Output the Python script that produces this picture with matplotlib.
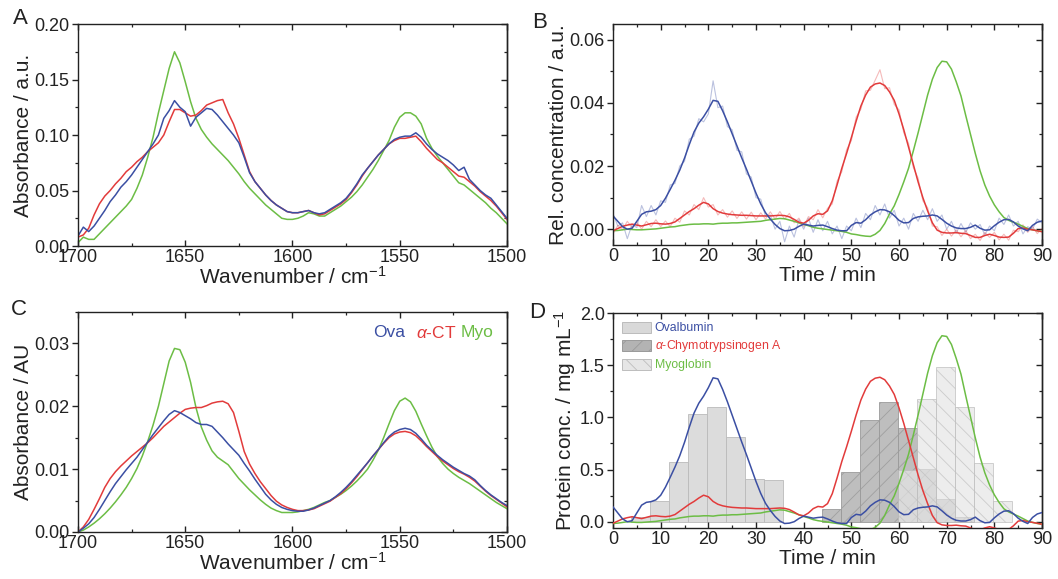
import numpy as np
import matplotlib
matplotlib.use("Agg")
import matplotlib.pyplot as plt
from matplotlib.ticker import MultipleLocator, FormatStrFormatter
from matplotlib.patches import Patch

plt.rcParams['font.family'] = ['Liberation Sans', 'DejaVu Sans']
plt.rcParams['mathtext.fontset'] = 'custom'
plt.rcParams['mathtext.rm'] = 'Liberation Sans'
plt.rcParams['mathtext.it'] = 'Liberation Sans:italic'
plt.rcParams['hatch.linewidth'] = 0.6
plt.rcParams['axes.linewidth'] = 1.0

BLUE = '#3b4fa3'
RED = '#e23b3b'
GREEN = '#6cbd45'
INK = '#222222'

# ---------------- IR spectra (A: measured, C: resolved components) ----------------
wavenumber = np.arange(1700, 1499, -2.5)

abs_ova = [0.009, 0.017, 0.013, 0.018, 0.025, 0.032, 0.040, 0.046, 0.053, 0.058,
           0.064, 0.071, 0.078, 0.085, 0.092, 0.100, 0.115, 0.122, 0.131, 0.125,
           0.121, 0.108, 0.116, 0.120, 0.124, 0.123, 0.118, 0.112, 0.106, 0.100,
           0.093, 0.080, 0.066, 0.058, 0.052, 0.046, 0.041, 0.037, 0.034, 0.031,
           0.030, 0.030, 0.031, 0.032, 0.030, 0.029, 0.030, 0.033, 0.036, 0.039,
           0.043, 0.049, 0.056, 0.064, 0.070, 0.076, 0.082, 0.087, 0.092, 0.096,
           0.098, 0.099, 0.099, 0.102, 0.098, 0.092, 0.087, 0.083, 0.080, 0.077,
           0.073, 0.068, 0.071, 0.060, 0.055, 0.050, 0.046, 0.043, 0.037, 0.031,
           0.025]
abs_act = [0.008, 0.010, 0.016, 0.028, 0.038, 0.045, 0.050, 0.056, 0.061, 0.067,
           0.071, 0.076, 0.080, 0.085, 0.089, 0.093, 0.100, 0.112, 0.123, 0.123,
           0.120, 0.117, 0.118, 0.122, 0.127, 0.129, 0.131, 0.132, 0.120, 0.110,
           0.097, 0.082, 0.067, 0.058, 0.052, 0.046, 0.041, 0.037, 0.034, 0.031,
           0.030, 0.030, 0.031, 0.032, 0.030, 0.028, 0.029, 0.032, 0.035, 0.038,
           0.042, 0.048, 0.055, 0.063, 0.070, 0.076, 0.082, 0.087, 0.092, 0.095,
           0.097, 0.097, 0.098, 0.099, 0.094, 0.088, 0.083, 0.078, 0.075, 0.071,
           0.067, 0.063, 0.062, 0.058, 0.054, 0.049, 0.045, 0.041, 0.036, 0.030,
           0.024]
abs_myo = [0.003, 0.008, 0.006, 0.006, 0.011, 0.016, 0.021, 0.026, 0.031, 0.036,
           0.042, 0.052, 0.064, 0.080, 0.098, 0.120, 0.140, 0.160, 0.175, 0.165,
           0.148, 0.130, 0.115, 0.105, 0.098, 0.092, 0.087, 0.082, 0.077, 0.071,
           0.065, 0.058, 0.052, 0.047, 0.042, 0.037, 0.033, 0.029, 0.025, 0.024,
           0.024, 0.025, 0.027, 0.030, 0.029, 0.027, 0.027, 0.030, 0.033, 0.036,
           0.040, 0.044, 0.049, 0.055, 0.062, 0.069, 0.077, 0.086, 0.095, 0.107,
           0.116, 0.120, 0.120, 0.117, 0.110, 0.097, 0.088, 0.081, 0.075, 0.069,
           0.063, 0.057, 0.055, 0.051, 0.047, 0.043, 0.039, 0.034, 0.030, 0.025,
           0.020]

comp_ova = [0.0000, 0.0006, 0.0013, 0.0023, 0.0036, 0.0050, 0.0064, 0.0077, 0.0088, 0.0099,
            0.0109, 0.0119, 0.0131, 0.0143, 0.0155, 0.0166, 0.0177, 0.0187, 0.0193, 0.0190,
            0.0185, 0.0180, 0.0174, 0.0171, 0.0171, 0.0168, 0.0159, 0.0150, 0.0140, 0.0131,
            0.0122, 0.0109, 0.0097, 0.0084, 0.0072, 0.0060, 0.0051, 0.0044, 0.0039, 0.0036,
            0.0034, 0.0033, 0.0033, 0.0035, 0.0038, 0.0042, 0.0046, 0.0050, 0.0056, 0.0063,
            0.0071, 0.0080, 0.0090, 0.0100, 0.0110, 0.0121, 0.0131, 0.0142, 0.0152, 0.0159,
            0.0163, 0.0165, 0.0163, 0.0157, 0.0148, 0.0138, 0.0130, 0.0122, 0.0115, 0.0109,
            0.0103, 0.0098, 0.0093, 0.0089, 0.0083, 0.0074, 0.0066, 0.0059, 0.0053, 0.0047,
            0.0042]
comp_act = [0.0000, 0.0008, 0.0020, 0.0036, 0.0053, 0.0071, 0.0085, 0.0096, 0.0105, 0.0113,
            0.0121, 0.0128, 0.0135, 0.0142, 0.0150, 0.0159, 0.0168, 0.0175, 0.0182, 0.0189,
            0.0195, 0.0197, 0.0198, 0.0198, 0.0201, 0.0205, 0.0207, 0.0208, 0.0204, 0.0190,
            0.0160, 0.0128, 0.0108, 0.0093, 0.0080, 0.0069, 0.0058, 0.0049, 0.0043, 0.0039,
            0.0036, 0.0034, 0.0034, 0.0035, 0.0037, 0.0041, 0.0045, 0.0049, 0.0055, 0.0061,
            0.0069, 0.0078, 0.0088, 0.0099, 0.0110, 0.0121, 0.0131, 0.0141, 0.0150, 0.0156,
            0.0159, 0.0160, 0.0158, 0.0153, 0.0145, 0.0136, 0.0128, 0.0120, 0.0113, 0.0107,
            0.0101, 0.0096, 0.0092, 0.0087, 0.0081, 0.0073, 0.0065, 0.0058, 0.0052, 0.0046,
            0.0040]
comp_myo = [0.0000, 0.0003, 0.0008, 0.0014, 0.0021, 0.0029, 0.0038, 0.0048, 0.0059, 0.0071,
            0.0085, 0.0101, 0.0121, 0.0144, 0.0170, 0.0200, 0.0236, 0.0272, 0.0292, 0.0290,
            0.0270, 0.0238, 0.0198, 0.0167, 0.0146, 0.0129, 0.0119, 0.0113, 0.0107, 0.0096,
            0.0085, 0.0076, 0.0067, 0.0059, 0.0051, 0.0044, 0.0038, 0.0034, 0.0031, 0.0031,
            0.0031, 0.0032, 0.0034, 0.0036, 0.0039, 0.0043, 0.0047, 0.0050, 0.0055, 0.0060,
            0.0066, 0.0073, 0.0081, 0.0090, 0.0100, 0.0114, 0.0130, 0.0150, 0.0172, 0.0193,
            0.0208, 0.0213, 0.0207, 0.0192, 0.0172, 0.0153, 0.0135, 0.0120, 0.0109, 0.0100,
            0.0093, 0.0087, 0.0082, 0.0077, 0.0071, 0.0065, 0.0059, 0.0053, 0.0047, 0.0042,
            0.0037]

# ---------------- elution profiles (B) ----------------
time_min = np.arange(0, 91, 1)

rel_ova_raw = [0.0050, 0.0010, 0.0020, -0.0030, 0.0015, 0.0005, 0.0075, 0.0040, 0.0075, 0.0045,
               0.0090, 0.0085, 0.0140, 0.0145, 0.0200, 0.0215, 0.0285, 0.0295, 0.0350, 0.0340,
               0.0365, 0.0470, 0.0385, 0.0390, 0.0325, 0.0315, 0.0250, 0.0245, 0.0175, 0.0165,
               0.0100, 0.0095, 0.0040, 0.0045, 0.0000, 0.0025, -0.0040, 0.0010, -0.0025, 0.0030,
               0.0000, 0.0035, -0.0010, 0.0030, -0.0005, 0.0025, -0.0015, 0.0010, -0.0030, 0.0010,
               -0.0005, 0.0035, 0.0005, 0.0050, 0.0030, 0.0075, 0.0045, 0.0080, 0.0035, 0.0060,
               0.0010, 0.0035, 0.0000, 0.0050, 0.0025, 0.0060, 0.0030, 0.0065, 0.0025, 0.0045,
               0.0000, 0.0025, -0.0012, 0.0018, -0.0010, 0.0020, 0.0000, 0.0015, -0.0018, 0.0010,
               -0.0005, 0.0035, 0.0015, 0.0045, 0.0010, 0.0025, -0.0015, 0.0008, 0.0000, 0.0032,
               0.0020]
rel_act_raw = [-0.0015, 0.0012, -0.0002, 0.0025, 0.0005, 0.0022, 0.0000, 0.0025, 0.0008, 0.0030,
               0.0008, 0.0026, 0.0008, 0.0035, 0.0022, 0.0058, 0.0045, 0.0078, 0.0062, 0.0100,
               0.0070, 0.0078, 0.0045, 0.0062, 0.0038, 0.0058, 0.0034, 0.0055, 0.0032, 0.0054,
               0.0030, 0.0052, 0.0032, 0.0055, 0.0032, 0.0056, 0.0032, 0.0050, 0.0020, 0.0035,
               0.0008, 0.0040, 0.0030, 0.0062, 0.0036, 0.0066, 0.0080, 0.0152, 0.0182, 0.0252,
               0.0280, 0.0355, 0.0380, 0.0438, 0.0440, 0.0472, 0.0505, 0.0445, 0.0448, 0.0395,
               0.0378, 0.0305, 0.0272, 0.0195, 0.0162, 0.0090, 0.0068, 0.0010, 0.0008, -0.0020,
               0.0000, -0.0022, -0.0002, -0.0024, -0.0004, -0.0030, -0.0016, -0.0036, -0.0010, -0.0026,
               -0.0010, -0.0034, -0.0016, -0.0035, -0.0003, -0.0008, 0.0014, -0.0010, 0.0008, -0.0014,
               0.0002]

rel_ova = [0.0042, 0.0025, 0.0008, 0.0000, 0.0003, 0.0025, 0.0047, 0.0055, 0.0057, 0.0062,
           0.0075, 0.0098, 0.0126, 0.0155, 0.0187, 0.0225, 0.0268, 0.0308, 0.0336, 0.0356,
           0.0380, 0.0408, 0.0405, 0.0375, 0.0340, 0.0302, 0.0264, 0.0226, 0.0190, 0.0152,
           0.0114, 0.0080, 0.0052, 0.0032, 0.0015, 0.0002, -0.0005, -0.0004, 0.0000, 0.0009,
           0.0016, 0.0013, 0.0010, 0.0012, 0.0013, 0.0008, 0.0002, -0.0003, -0.0005, -0.0005,
           0.0012, 0.0021, 0.0019, 0.0030, 0.0045, 0.0055, 0.0062, 0.0061, 0.0055, 0.0043,
           0.0028, 0.0020, 0.0021, 0.0034, 0.0039, 0.0041, 0.0042, 0.0045, 0.0042, 0.0031,
           0.0019, 0.0010, 0.0004, 0.0002, 0.0002, 0.0006, 0.0013, 0.0003, -0.0003, -0.0002,
           0.0011, 0.0022, 0.0030, 0.0031, 0.0023, 0.0010, 0.0001, -0.0005, 0.0012, 0.0022,
           0.0026]
rel_act = [-0.0005, 0.0002, 0.0009, 0.0013, 0.0016, 0.0013, 0.0010, 0.0014, 0.0018, 0.0019,
           0.0017, 0.0016, 0.0018, 0.0023, 0.0034, 0.0045, 0.0056, 0.0065, 0.0076, 0.0085,
           0.0080, 0.0065, 0.0056, 0.0051, 0.0048, 0.0046, 0.0045, 0.0044, 0.0044, 0.0043,
           0.0042, 0.0042, 0.0042, 0.0042, 0.0043, 0.0044, 0.0043, 0.0039, 0.0031, 0.0022,
           0.0019, 0.0028, 0.0042, 0.0049, 0.0047, 0.0058, 0.0090, 0.0140, 0.0193, 0.0240,
           0.0290, 0.0342, 0.0390, 0.0425, 0.0450, 0.0460, 0.0463, 0.0455, 0.0435, 0.0408,
           0.0365, 0.0315, 0.0260, 0.0205, 0.0150, 0.0100, 0.0058, 0.0020, -0.0003, -0.0010,
           -0.0012, -0.0012, -0.0011, -0.0013, -0.0014, -0.0020, -0.0026, -0.0026, -0.0020, -0.0016,
           -0.0020, -0.0025, -0.0026, -0.0025, -0.0013, 0.0002, 0.0004, 0.0000, -0.0002, -0.0005,
           -0.0008]
rel_myo = [-0.0005, -0.0004, -0.0002, 0.0000, -0.0001, -0.0002, -0.0002, -0.0001, 0.0000, 0.0001,
           0.0003, 0.0005, 0.0007, 0.0008, 0.0011, 0.0013, 0.0015, 0.0016, 0.0016, 0.0017,
           0.0017, 0.0016, 0.0018, 0.0019, 0.0019, 0.0020, 0.0020, 0.0021, 0.0022, 0.0023,
           0.0024, 0.0025, 0.0028, 0.0030, 0.0032, 0.0034, 0.0033, 0.0029, 0.0025, 0.0020,
           0.0015, 0.0011, 0.0006, 0.0003, 0.0001, -0.0001, -0.0003, -0.0005, -0.0007, -0.0010,
           -0.0015, -0.0017, -0.0020, -0.0022, -0.0023, -0.0016, -0.0004, 0.0018, 0.0048, 0.0074,
           0.0110, 0.0150, 0.0193, 0.0248, 0.0305, 0.0365, 0.0425, 0.0475, 0.0512, 0.0532,
           0.0530, 0.0507, 0.0467, 0.0422, 0.0360, 0.0300, 0.0240, 0.0185, 0.0140, 0.0105,
           0.0077, 0.0055, 0.0037, 0.0028, 0.0022, 0.0016, 0.0009, 0.0002, -0.0002, -0.0005,
           -0.0007]

# calibration factors (mg/mL per relative unit) used for panel D
calib_ova = 33.8
calib_act = 29.9
calib_myo = 33.5

# ---------------- offline fraction analysis (D bars) ----------------
fraction_width = 4.0
ova_frac_t = [5.75, 9.75, 13.75, 17.75, 21.75, 25.75, 29.75, 33.75]
ova_frac_c = [0.05, 0.20, 0.57, 1.03, 1.10, 0.81, 0.41, 0.40]
act_frac_t = [45.75, 49.75, 53.75, 57.75, 61.75, 65.75, 69.75, 73.75]
act_frac_c = [0.12, 0.48, 0.97, 1.15, 0.90, 0.51, 0.22, 0.05]
myo_frac_t = [61.75, 65.75, 69.75, 73.75, 77.75, 81.75]
myo_frac_c = [0.50, 1.18, 1.48, 1.10, 0.56, 0.20]

TICK_FS = 13.0
LABEL_FS = 15


def style_axes(ax, xmaj, xmin, ymaj, ymin, yfmt):
    ax.xaxis.set_major_locator(MultipleLocator(xmaj))
    ax.xaxis.set_minor_locator(MultipleLocator(xmin))
    ax.yaxis.set_major_locator(MultipleLocator(ymaj))
    ax.yaxis.set_minor_locator(MultipleLocator(ymin))
    ax.yaxis.set_major_formatter(FormatStrFormatter(yfmt))
    ax.tick_params(axis='x', which='both', direction='in', top=True, colors=INK,
                   labelsize=TICK_FS, pad=2)
    ax.tick_params(axis='y', which='both', direction='out', right=False, colors=INK,
                   labelsize=TICK_FS, pad=2)
    ax.tick_params(which='major', length=4, width=1.0)
    ax.tick_params(which='minor', length=2.5, width=0.9)
    sec = ax.secondary_yaxis('right')
    sec.yaxis.set_major_locator(MultipleLocator(ymaj))
    sec.yaxis.set_minor_locator(MultipleLocator(ymin))
    sec.tick_params(axis='y', which='both', direction='in', labelright=False, colors=INK)
    sec.tick_params(which='major', length=4, width=1.0)
    sec.tick_params(which='minor', length=2.5, width=0.9)
    for s in ax.spines.values():
        s.set_color(INK)
    sec.spines['right'].set_color(INK)


fig = plt.figure(figsize=(10.58, 5.79), dpi=100)

axA = fig.add_axes([0.0737, 0.5751, 0.4055, 0.3834])
axB = fig.add_axes([0.5794, 0.5769, 0.4055, 0.3817])
axC = fig.add_axes([0.0737, 0.0812, 0.4055, 0.3800])
axD = fig.add_axes([0.5794, 0.0881, 0.4055, 0.3713])

lw = 1.1

# Panel A
axA.plot(wavenumber, abs_myo, color=GREEN, lw=lw)
axA.plot(wavenumber, abs_act, color=RED, lw=lw)
axA.plot(wavenumber, abs_ova, color=BLUE, lw=lw)
axA.set_xlim(1700, 1500)
axA.set_ylim(0, 0.20)
style_axes(axA, 50, 25, 0.05, 0.025, '%.2f')
axA.set_xlabel('Wavenumber / cm$^{-1}$', fontsize=LABEL_FS, color=INK, labelpad=0)
axA.set_ylabel('Absorbance / a.u.', fontsize=LABEL_FS, color=INK, labelpad=1)

# Panel B
axB.plot(time_min, rel_ova_raw, color=BLUE, lw=0.8, alpha=0.35)
axB.plot(time_min, rel_act_raw, color=RED, lw=0.8, alpha=0.35)
axB.plot(time_min, rel_myo, color=GREEN, lw=lw)
axB.plot(time_min, rel_act, color=RED, lw=lw)
axB.plot(time_min, rel_ova, color=BLUE, lw=lw)
axB.set_xlim(0, 90)
axB.set_ylim(-0.005, 0.065)
style_axes(axB, 10, 5, 0.02, 0.01, '%.2f')
axB.set_xlabel('Time / min', fontsize=LABEL_FS, color=INK, labelpad=1)
axB.set_ylabel('Rel. concentration / a.u.', fontsize=LABEL_FS, color=INK, labelpad=1)

# Panel C
axC.plot(wavenumber, comp_myo, color=GREEN, lw=lw)
axC.plot(wavenumber, comp_act, color=RED, lw=lw)
axC.plot(wavenumber, comp_ova, color=BLUE, lw=lw)
axC.set_xlim(1700, 1500)
axC.set_ylim(0, 0.035)
style_axes(axC, 50, 25, 0.01, 0.005, '%.2f')
axC.set_xlabel('Wavenumber / cm$^{-1}$', fontsize=LABEL_FS, color=INK, labelpad=0)
axC.set_ylabel('Absorbance / AU', fontsize=LABEL_FS, color=INK, labelpad=1)
for xpos, label, col in [(0.688, 'Ova', BLUE), (0.788, r'$\alpha$-CT', RED), (0.893, 'Myo', GREEN)]:
    axC.text(xpos, 0.905, label, color=col, fontsize=12.5, ha='left', va='center',
             transform=axC.transAxes)

# Panel D
axD.bar(ova_frac_t, ova_frac_c, width=fraction_width, color='#d9d9d9',
        edgecolor='#bcbcbc', linewidth=0.7, alpha=0.9, zorder=1)
axD.bar(act_frac_t, act_frac_c, width=fraction_width, color='#b3b3b3',
        edgecolor='#9a9a9a', linewidth=0.7, hatch='//', alpha=0.85, zorder=1)
axD.bar(myo_frac_t, myo_frac_c, width=fraction_width, color='#e6e6e6',
        edgecolor='#bdbdbd', linewidth=0.7, hatch='\\\\', alpha=0.7, zorder=1)
axD.plot(time_min, np.array(rel_myo) * calib_myo, color=GREEN, lw=lw, zorder=3)
axD.plot(time_min, np.array(rel_act) * calib_act, color=RED, lw=lw, zorder=3)
axD.plot(time_min, np.array(rel_ova) * calib_ova, color=BLUE, lw=lw, zorder=3)
axD.set_xlim(0, 90)
axD.set_ylim(-0.06, 2.0)
style_axes(axD, 10, 5, 0.5, 0.25, '%.1f')
axD.set_xlabel('Time / min', fontsize=LABEL_FS, color=INK, labelpad=1)
axD.set_ylabel('Protein conc. / mg mL$^{-1}$', fontsize=LABEL_FS, color=INK, labelpad=1)

handles = [
    Patch(facecolor='#d9d9d9', edgecolor='#bcbcbc', linewidth=0.7),
    Patch(facecolor='#b3b3b3', edgecolor='#9a9a9a', linewidth=0.7, hatch='//'),
    Patch(facecolor='#e6e6e6', edgecolor='#bdbdbd', linewidth=0.7, hatch='\\\\'),
]
leg = axD.legend(handles, ['Ovalbumin', r'$\alpha$-Chymotrypsinogen A', 'Myoglobin'],
                 loc='upper left', bbox_to_anchor=(0.0, 1.0), frameon=False,
                 fontsize=8.8, handlelength=2.4, handleheight=1.0, handletextpad=0.3,
                 labelspacing=0.35, borderaxespad=0.4, borderpad=0.3)
for txt, col in zip(leg.get_texts(), [BLUE, RED, GREEN]):
    txt.set_color(col)

# panel letters
for x, y, s in [(0.019, 0.968, 'A'), (0.510, 0.962, 'B'), (0.018, 0.465, 'C'), (0.508, 0.460, 'D')]:
    fig.text(x, y, s, fontsize=16, color=INK, ha='center', va='center')

fig.savefig('out.png', dpi=100)
